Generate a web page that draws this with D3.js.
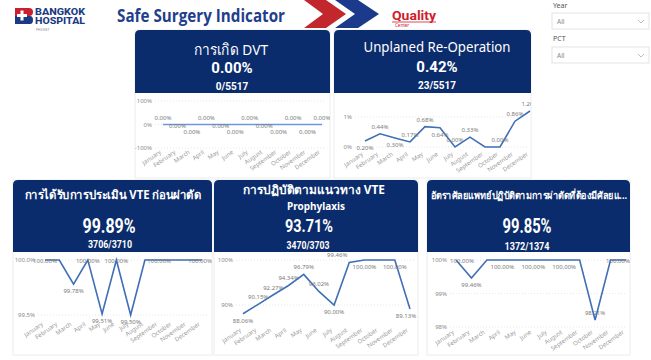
<!DOCTYPE html>
<html><head><meta charset="utf-8">
<script src="https://cdn.jsdelivr.net/npm/d3@7"></script>
<style>
body{margin:0;background:#fff;}
svg{display:block;font-family:"Noto Sans","DejaVu Sans",sans-serif;}
</style>
</head><body>
<svg id="c" width="651" height="360"></svg>
<script>
// ---------- data ----------
const months = ["January","February","March","April","May","June","July","August","September","October","November","December"];
const dvtRate       = [0,0,0,0,0,0,0,0,0,0,0,0];
const reopRate      = [0.20,0.44,0.30,0.17,0.68,0.64,0.00,0.33,0.00,0.00,0.86,1.20];
const vteAssessRate = [100,100,99.78,100,99.51,100,99.50,100,100,100,100,100];
const vteProphRate  = [88.06,90.15,92.27,94.34,96.79,93.02,90.00,99.46,100,100,100,89.13];
const surgeonRate   = [100,99.46,100,100,100,100,100,100,100,98.21,100,100];
const dvtTicks = [100,0,-100];
const reopTicks = [1,0];
const vteAssessTicks = [100,99.5];
const vteProphTicks = [100,90];
const surgeonTicks = [100,99,98];
const headerTitles = ["การเกิด DVT","Unplaned Re-Operation","การได้รับการประเมิน VTE ก่อนผ่าตัด","การปฏิบัติตามแนวทาง VTE","อัตราศัลยแพทย์ปฏิบัติตามการผ่าตัดที่ต้องมีศัลยแ..."];
const headerValues = ["0.00%","0.42%","99.89%","93.71%","99.85%"];
const headerRatios = ["0/5517","23/5517","3706/3710","3470/3703","1372/1374"];

// ---------- style / layout ----------
const NAVY = "#0b2c6c", LINE = "#3f6fb7";
const OFF = {a:-5, o:3, b:9, L:-5, R:3};
const DX = {L:-12, R:6};
const svg = d3.select("#c");

function T(g, s, x, y, size, weight, fill, len, anchor){
  const t = g.append("text").attr("x",x).attr("y",y).text(s)
    .attr("font-size",size).attr("font-weight",weight||400).attr("fill",fill)
    .attr("text-anchor",anchor||"middle");
  if(len) t.attr("textLength",len).attr("lengthAdjust","spacingAndGlyphs");
  return t;
}

// ---------- page header ----------
const hd = svg.append("g");
hd.append("path").attr("d","M15,8 H29 Q33,8 33,12 Q33,16 29,16 H15 Z").attr("fill","#c8202f");
hd.append("path").attr("d","M15,16 H30 Q33,16 33,20 Q33,24 30,24 H15 Z").attr("fill","#1b3a84");
hd.append("rect").attr("x",17).attr("y",14).attr("width",10).attr("height",3).attr("fill","#fff");
hd.append("rect").attr("x",20.5).attr("y",10.5).attr("width",3).attr("height",10).attr("fill","#fff");
T(hd,"BANGKOK",35,15,8.5,800,"#1b3a84",50,"start").attr("font-family","Roboto");
T(hd,"HOSPITAL",35,24,8.5,800,"#1b3a84",50,"start").attr("font-family","Roboto");
T(hd,"PHUKET",36,31,3.5,400,"#888",null,"start");
T(hd,"Safe Surgery Indicator",117,22,17,700,"#1f3f8c",168,"start").attr("font-family","Open Sans");
hd.append("polygon").attr("points","304,0 326,0 346,14 326,28 304,28 323,14").attr("fill","#c1272d");
hd.append("polygon").attr("points","335,0 358,0 379,14 358,28 335,28 355,14").attr("fill","#1b3a8c");
T(hd,"Quality",392,20,13,700,"#d0202e",44,"start").attr("font-family","Roboto");
hd.append("line").attr("x1",392).attr("x2",436).attr("y1",22).attr("y2",22).attr("stroke","#d0202e").attr("stroke-width",0.8);
T(hd,"Center",395,27,4.5,400,"#d0202e",null,"start");

// slicers
[["Year",8,13],["PCT",41,47]].forEach(([lab,ly,by])=>{
  T(hd,lab,553,ly,7,400,"#555",null,"start");
  hd.append("rect").attr("x",552).attr("y",by).attr("width",97).attr("height",16).attr("fill","#fff").attr("stroke","#e3e3e3");
  T(hd,"All",557,by+11,6.5,400,"#888",null,"start");
  hd.append("path").attr("d",`M638,${by+7} l3,3 l3,-3`).attr("fill","none").attr("stroke","#aaa").attr("stroke-width",0.8);
});

// ---------- panels ----------
const panels = [
  {box:[135,30,195,148,63], data:dvtRate, ticks:dvtTicks, yd:[100,-100], yr:[101,148], xr:[163,322], tickX:152, xLabY:150,
   fmt:d=>d+"%", codes:["a","o","b","a","o","b","a","o","b","a","b","a"], clamp:false, lc:"#6b98d8",
   texts:[[0,231,55,15,400,74],[1,232,73,15,700,null],[2,232,90,10,700,null]]},
  {box:[334,30,197,148,63], data:reopRate, ticks:reopTicks, yd:[0,1], yr:[147,117], xr:[365,530], tickX:352, xLabY:152,
   fmt:d=>d+"%", codes:["b","a","b","a","a","b","a","a","","a","a","a"], clamp:false, lc:LINE,
   texts:[[0,437,52,14,400,147],[1,437,72,15,700,null],[2,437,89,10,700,null]]},
  {box:[13,180,199,175,72], data:vteAssessRate, ticks:vteAssessTicks, yd:[100,99.5], yr:[260,315], xr:[45,202], tickX:35, xLabY:322,
   fmt:d=>d3.format(".1f")(d)+"%", codes:["o","","b","o","b","o","b","","o","","","o"], clamp:true, lc:LINE,
   texts:[[0,113,199,12,700,177],[1,109,233,20,700,53],[2,110,248,10,700,44]]},
  {box:[214,180,204,175,72], data:vteProphRate, ticks:vteProphTicks, yd:[100,90], yr:[260,305], xr:[243,410], tickX:233, xLabY:328,
   fmt:d=>d+"%", codes:["b","a","a","a","a","a","b","L","b","","b","b"], clamp:true, lc:LINE,
   texts:[[0,314,194,12,700,142],["Prophylaxis",316,210,10.5,700,58],[1,309,232,18,700,48],[2,308,249,10,700,43]]},
  {box:[427,180,203,175,72], data:surgeonRate, ticks:surgeonTicks, yd:[100,98], yr:[260,327], xr:[456,626], tickX:447, xLabY:330,
   fmt:d=>d+"%", codes:["R","b","","b","","b","","b","","a","","o"], clamp:true, lc:LINE,
   texts:[[0,529,199,10,700,196],[1,527,233,20,700,49],[2,527,250,10,700,45]]}
];

panels.forEach((p,i)=>{
  const [bx,by,bw,bh,hh] = p.box;
  const g = svg.append("g");
  const cid = "clip"+i;
  g.append("clipPath").attr("id",cid).append("rect").attr("x",bx).attr("y",by).attr("width",bw).attr("height",bh);
  g.append("rect").attr("x",bx).attr("y",by).attr("width",bw).attr("height",bh).attr("fill","#fff").attr("stroke","#ececec");
  const r=5;
  g.append("path").attr("d",`M${bx},${by+hh} V${by+r} Q${bx},${by} ${bx+r},${by} H${bx+bw-r} Q${bx+bw},${by} ${bx+bw},${by+r} V${by+hh} Z`).attr("fill",NAVY);
  p.texts.forEach(([k,x,y,s,w,len])=>{
    let str;
    if(typeof k==="string") str=k;
    else str = k===0?headerTitles[i]:k===1?headerValues[i]:headerRatios[i];
    const t = T(g,str,x,y,s,w,"#fff",len);
    if(k===1||k===2) t.attr("font-family","Roboto");
  });

  const x = d3.scalePoint().domain(months).range(p.xr);
  const y = d3.scaleLinear().domain(p.yd).range(p.yr);
  const pg = g.append("g").attr("clip-path",`url(#${cid})`);

  // gridlines
  pg.selectAll("line.grid").data(p.ticks).join("line")
    .attr("x1",p.tickX+3).attr("x2",bx+bw-4).attr("y1",d=>y(d)).attr("y2",d=>y(d))
    .attr("stroke","#e2e2e2").attr("stroke-dasharray","1,2").attr("stroke-width",0.8);

  // y axis
  const ya = pg.append("g").attr("transform",`translate(${p.tickX},0)`)
    .call(d3.axisLeft(y).tickValues(p.ticks).tickFormat(p.fmt).tickSize(0).tickPadding(0));
  ya.select(".domain").remove();
  ya.selectAll("text").attr("font-size",6).attr("fill","#8a8a8a").attr("font-family","Noto Sans");

  // x axis
  const xa = pg.append("g").attr("transform",`translate(0,${p.xLabY})`)
    .call(d3.axisBottom(x).tickSize(0).tickPadding(0));
  xa.select(".domain").remove();
  xa.selectAll("text").attr("font-size",6).attr("fill","#999").attr("font-family","Noto Sans")
    .attr("text-anchor","end").attr("dy",0).attr("y",0)
    .attr("transform","translate(-2,3) rotate(-35)");

  // line
  pg.append("path").datum(p.data)
    .attr("d",d3.line().x((d,j)=>x(months[j])).y(d=>y(d)))
    .attr("fill","none").attr("stroke",p.lc).attr("stroke-width",1.6).attr("stroke-linejoin","miter");

  // data labels
  pg.selectAll("text.dl").data(p.data.map((v,j)=>({v,j,c:p.codes[j]})).filter(d=>d.c))
    .join("text").attr("class","dl")
    .attr("x",d=>{let xx=x(months[d.j])+(DX[d.c]||0); if(p.clamp) xx=Math.min(xx,bx+bw-12); return xx;})
    .attr("y",d=>y(d.v)+OFF[d.c])
    .attr("text-anchor","middle").attr("font-size",6).attr("fill","#7a7a7a")
    .text(d=>d3.format(".2f")(d.v)+"%");
});
</script>
</body></html>
